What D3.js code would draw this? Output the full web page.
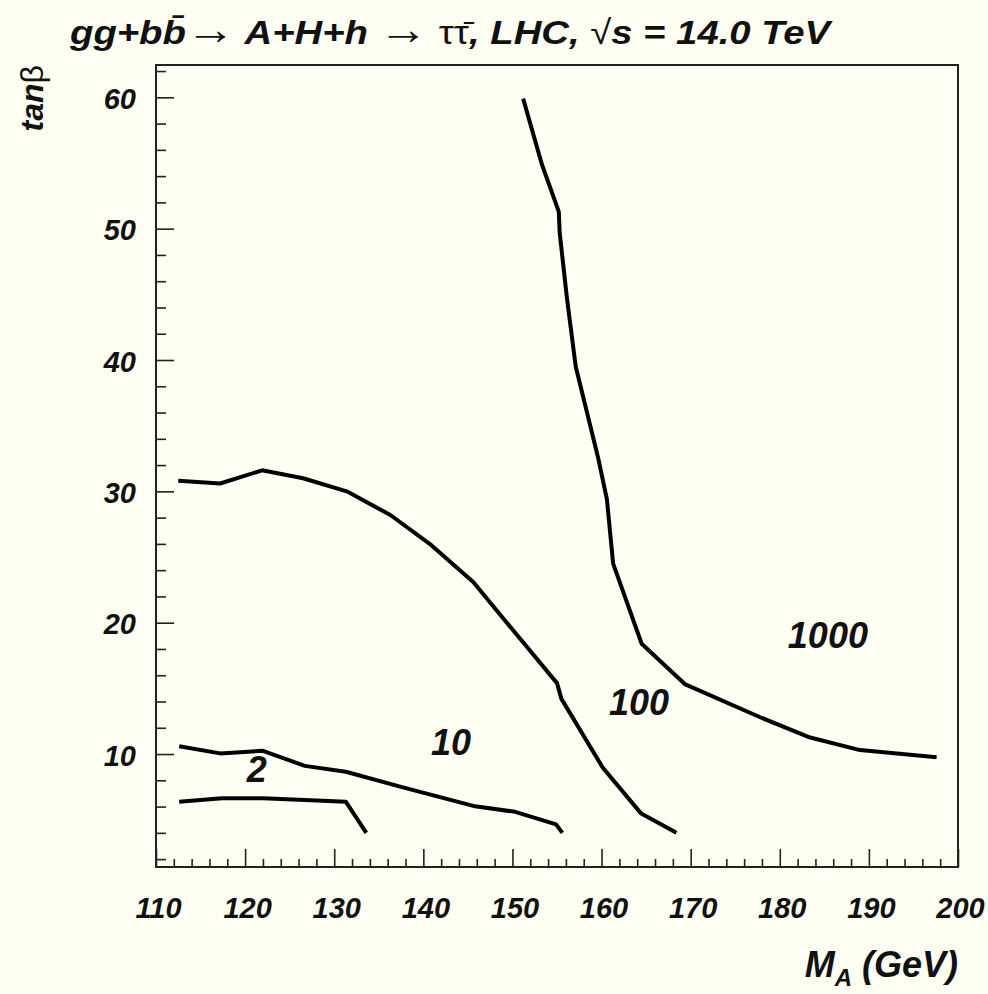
<!DOCTYPE html>
<html>
<head>
<meta charset="utf-8">
<script src="https://cdn.jsdelivr.net/npm/d3@7"></script>
<style>
  html, body { margin: 0; padding: 0; background: #fefef2; }
  svg { display: block; }
  text { font-family: "Liberation Sans", Arial, sans-serif; font-weight: bold; font-style: italic; fill: #111; }
</style>
</head>
<body>
<div id="chart"></div>
<script>
// contour lines (M_A in GeV, tan beta)
const curve1000M = [151.2, 153.3, 155.2, 155.3, 156.1, 157.1, 159.6, 160.6, 161.3, 164.5, 169.4, 177.8, 183.2, 189.0, 197.6];
const curve1000T = [59.9, 54.9, 51.3, 49.7, 44.8, 39.5, 32.6, 29.4, 24.5, 18.4, 15.3, 12.8, 11.3, 10.3, 9.75];

const curve100M = [112.5, 117.2, 121.9, 126.5, 131.4, 136.3, 140.9, 145.6, 150.1, 155.0, 155.5, 160.1, 164.4, 168.4];
const curve100T = [30.8, 30.6, 31.6, 31.0, 30.0, 28.2, 25.9, 23.1, 19.4, 15.4, 14.2, 9.0, 5.5, 4.0];

const curve10M = [112.6, 117.2, 122.0, 126.7, 131.3, 137.5, 145.6, 150.3, 154.9, 155.6];
const curve10T = [10.6, 10.05, 10.25, 9.1, 8.65, 7.5, 6.05, 5.6, 4.65, 4.0];

const curve2M = [112.6, 117.4, 122.0, 126.7, 131.3, 133.6];
const curve2T = [6.37, 6.63, 6.63, 6.5, 6.37, 4.0];

// region labels
const regionLabels = ["1000", "100", "10", "2"];
const labelM = [185.4, 164.2, 143.1, 121.3];
const labelT = [18.07, 12.97, 9.92, 7.87];

// axis ticks
const xMajor = [110, 120, 130, 140, 150, 160, 170, 180, 190, 200];
const yMajor = [10, 20, 30, 40, 50, 60];

const width = 988, height = 994;
const svg = d3.select("#chart").append("svg")
  .attr("width", width).attr("height", height);

const x = d3.scaleLinear().domain([110, 200]).range([156, 958]);
const y = d3.scaleLinear().domain([1.4, 62.46]).range([867, 65]);

const xMinor = d3.range(112, 200, 2).filter(v => v % 10 !== 0);
const yMinor = d3.range(2, 63, 2).filter(v => v % 10 !== 0);

// minor ticks
svg.append("g")
  .attr("transform", `translate(0,${y.range()[0]})`)
  .call(d3.axisBottom(x).tickValues(xMinor).tickSize(-8).tickSizeOuter(0).tickFormat(""))
  .call(g => g.select(".domain").remove());
svg.append("g")
  .attr("transform", `translate(${x.range()[0]},0)`)
  .call(d3.axisLeft(y).tickValues(yMinor).tickSize(-10).tickSizeOuter(0).tickFormat(""))
  .call(g => g.select(".domain").remove());

// major ticks with labels
const xAxis = svg.append("g")
  .attr("transform", `translate(0,${y.range()[0]})`)
  .call(d3.axisBottom(x).tickValues(xMajor).tickSize(-18).tickSizeOuter(0).tickFormat(d3.format("d")))
  .call(g => g.select(".domain").remove());
xAxis.selectAll("text")
  .attr("y", 51).attr("dy", 0).attr("x", 2)
  .style("font-size", "29px").style("font-family", null);

const yAxis = svg.append("g")
  .attr("transform", `translate(${x.range()[0]},0)`)
  .call(d3.axisLeft(y).tickValues(yMajor).tickSize(-18).tickSizeOuter(0).tickFormat(d3.format("d")))
  .call(g => g.select(".domain").remove());
yAxis.selectAll("text")
  .attr("x", -20).attr("dy", "0.38em")
  .style("font-size", "29px").style("font-family", null);

svg.selectAll(".tick line").attr("stroke", "#222").attr("stroke-width", 1.6);

// frame
svg.append("rect")
  .attr("x", x.range()[0]).attr("y", y.range()[1])
  .attr("width", x.range()[1] - x.range()[0])
  .attr("height", y.range()[0] - y.range()[1])
  .attr("fill", "none").attr("stroke", "#222").attr("stroke-width", 2);

// contours
const curves = [
  [curve1000M, curve1000T],
  [curve100M, curve100T],
  [curve10M, curve10T],
  [curve2M, curve2T]
].map(([m, t]) => m.map((v, i) => [v, t[i]]));

const line = d3.line().x(d => x(d[0])).y(d => y(d[1]));

svg.append("g").selectAll("path")
  .data(curves)
  .join("path")
  .attr("d", line)
  .attr("fill", "none")
  .attr("stroke", "#000")
  .attr("stroke-width", 4)
  .attr("stroke-linejoin", "round");

// region labels
svg.append("g").selectAll("text")
  .data(regionLabels)
  .join("text")
  .attr("x", (d, i) => x(labelM[i]))
  .attr("y", (d, i) => y(labelT[i]))
  .attr("text-anchor", "middle")
  .style("font-size", "36px")
  .text(d => d);

// title
const title = svg.append("text")
  .attr("x", 70).attr("y", 44)
  .style("font-size", "34px");
const plain = t => title.append("tspan")
  .style("font-weight", "normal").style("font-style", "normal").text(t);
title.append("tspan").text("gg+bb\u0304");
plain("\u2192").style("font-size", "44px");
title.append("tspan").text(" A+H+h ");
plain("\u2192").style("font-size", "44px");
plain(" \u03c4\u03c4\u0304");
title.append("tspan").text(", LHC, ");
plain("\u221a");
title.append("tspan").text("s = 14.0 TeV");
title.attr("textLength", 760).attr("lengthAdjust", "spacingAndGlyphs");

// y axis title
const yTitle = svg.append("text")
  .attr("transform", "translate(43,65) rotate(-90)")
  .attr("text-anchor", "end")
  .style("font-size", "32px");
yTitle.append("tspan").text("tan");
yTitle.append("tspan").style("font-weight", "normal").style("font-style", "normal").text("\u03b2");

// x axis title
const xTitle = svg.append("text")
  .attr("x", 958).attr("y", 977)
  .attr("text-anchor", "end")
  .style("font-size", "36px");
xTitle.append("tspan").text("M");
xTitle.append("tspan").attr("dy", 9).style("font-size", "24px").text("A");
xTitle.append("tspan").attr("dy", -9).text(" (GeV)");
</script>
</body>
</html>
